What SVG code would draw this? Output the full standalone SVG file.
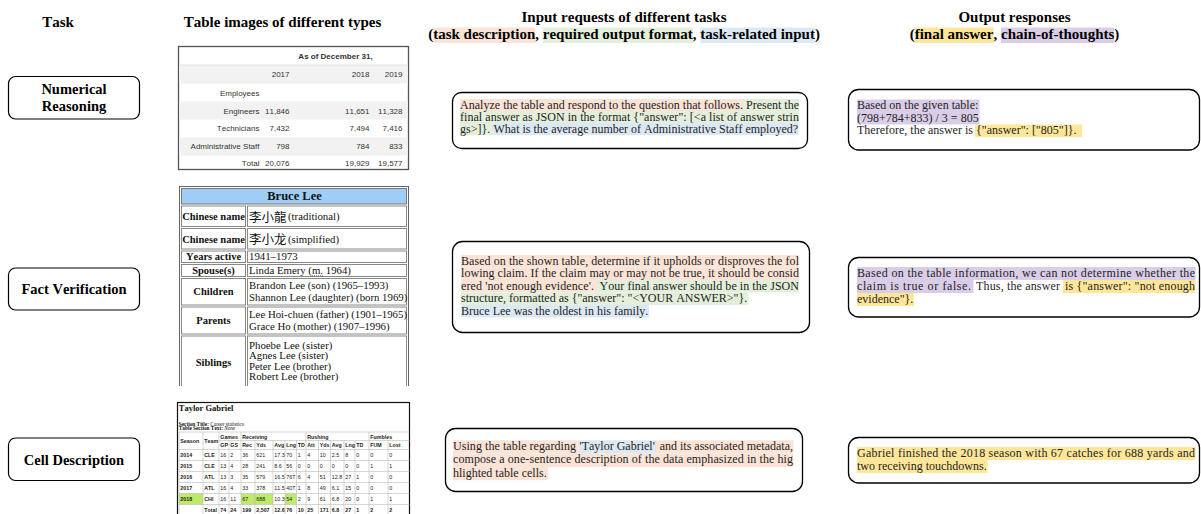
<svg xmlns="http://www.w3.org/2000/svg" width="1201" height="514" viewBox="0 0 1201 514">
<style>
text{font-kerning:none}
.h{font-family:"Liberation Serif",serif;font-weight:bold;font-size:15px;fill:#000}
.tn{font-family:"Liberation Serif",serif;font-weight:bold;font-size:14.5px;fill:#000;text-anchor:middle}
.nb{fill:#fff;stroke:#000;stroke-width:1.2}
.bx{fill:#fff;stroke:#000;stroke-width:1.3}
.b{font-family:"Liberation Serif",serif;font-size:12px;fill:#1e1e1e}
.or{fill:#fbe3d6}.gr{fill:#e3efda}.bl{fill:#dce9f5}.ye{fill:#ffe699}.pu{fill:#dacde7}
.s8{font-family:"Liberation Sans",sans-serif;font-size:8px;fill:#333}
.r{text-anchor:end}
.wl{font-family:"Liberation Serif",serif;font-weight:bold;font-size:10.5px;fill:#111;text-anchor:middle}
.wv{font-family:"Liberation Serif",serif;font-size:10.8px;fill:#111}
.cjk{font-family:"Noto Sans CJK TC","Noto Sans CJK SC",sans-serif;font-size:12.5px;fill:#111}
.wc{fill:#fff;stroke:#888;stroke-width:1}
.t5{font-family:"Liberation Sans",sans-serif;font-size:5.3px;fill:#222}
.bd{font-weight:bold}
.grid{stroke:#bbb;stroke-width:0.6}
</style>
<defs>
<clipPath id="clip2"><rect x="170" y="180" width="245" height="206"/></clipPath>
<clipPath id="clip3"><rect x="170" y="395" width="245" height="119"/></clipPath>
</defs>
<rect width="1201" height="514" fill="#fff"/>

<g id="headers">
<text class="h" x="58" y="27" text-anchor="middle">Task</text>
<text class="h" x="282.5" y="27" text-anchor="middle">Table images of different types</text>
<text class="h" x="624" y="22" text-anchor="middle">Input requests of different tasks</text>
<rect class="or" x="433.2" y="27.5" width="102.1" height="15.5"/>
<rect class="gr" x="542.8" y="27.5" width="150" height="15.5"/>
<rect class="bl" x="700.3" y="27.5" width="114.6" height="15.5"/>
<text class="h" x="428.2" y="39">(</text>
<text class="h" x="433.2" y="39">task description</text>
<text class="h" x="535.3" y="39">,</text>
<text class="h" x="542.8" y="39">required output format</text>
<text class="h" x="692.8" y="39">,</text>
<text class="h" x="700.3" y="39">task-related input</text>
<text class="h" x="814.9" y="39">)</text>
<text class="h" x="1014.5" y="22" text-anchor="middle">Output responses</text>
<rect class="ye" x="914.7" y="27.5" width="78.8" height="15.5"/>
<rect class="pu" x="1001" y="27.5" width="113.3" height="15.5"/>
<text class="h" x="909.7" y="39">(</text>
<text class="h" x="914.7" y="39">final answer</text>
<text class="h" x="993.5" y="39">,</text>
<text class="h" x="1001" y="39">chain-of-thoughts</text>
<text class="h" x="1114.3" y="39">)</text>
</g>

<g id="task-numerical-reasoning">
<rect class="nb" x="8.5" y="76.5" width="131" height="42.5" rx="7"/>
<text class="tn" x="74" y="93.5">Numerical</text>
<text class="tn" x="74" y="110.5">Reasoning</text>
</g>
<g id="task-fact-verification">
<rect class="nb" x="8.5" y="268" width="131" height="42" rx="7"/>
<text class="tn" x="74" y="294">Fact Verification</text>
</g>
<g id="task-cell-description">
<rect class="nb" x="8.5" y="438" width="131" height="42.5" rx="7"/>
<text class="tn" x="74" y="464.5">Cell Description</text>
</g>

<g id="table-numerical">
<rect x="178.5" y="46.5" width="230" height="123" fill="#fff" stroke="#555" stroke-width="1.3"/>
<rect x="179.2" y="65" width="228.6" height="18.5" fill="#f2f2f2"/>
<rect x="179.2" y="101.5" width="228.6" height="18" fill="#f2f2f2"/>
<rect x="179.2" y="137.5" width="228.6" height="18" fill="#f2f2f2"/>
<line x1="179.2" y1="65" x2="407.8" y2="65" stroke="#ddd" stroke-width="0.8"/>
<text class="s8 bd" x="335.5" y="59" text-anchor="middle">As of December 31,</text>
<text class="s8 r" x="289.5" y="77">2017</text><text class="s8 r" x="369.5" y="77">2018</text><text class="s8 r" x="402.5" y="77">2019</text>
<text class="s8 r" x="259.5" y="95.5">Employees</text>
<text class="s8 r" x="259.5" y="113.5">Engineers</text><text class="s8 r" x="289.5" y="113.5">11,846</text><text class="s8 r" x="369.5" y="113.5">11,651</text><text class="s8 r" x="402.5" y="113.5">11,328</text>
<text class="s8 r" x="259.5" y="131">Technicians</text><text class="s8 r" x="289.5" y="131">7,432</text><text class="s8 r" x="369.5" y="131">7,494</text><text class="s8 r" x="402.5" y="131">7,416</text>
<text class="s8 r" x="259.5" y="149">Administrative Staff</text><text class="s8 r" x="289.5" y="149">798</text><text class="s8 r" x="369.5" y="149">784</text><text class="s8 r" x="402.5" y="149">833</text>
<text class="s8 r" x="259.5" y="166">Total</text><text class="s8 r" x="289.5" y="166">20,076</text><text class="s8 r" x="369.5" y="166">19,929</text><text class="s8 r" x="402.5" y="166">19,577</text>
</g>

<g id="table-bruce-lee" clip-path="url(#clip2)">
<rect x="179.5" y="186.5" width="229" height="215" fill="#fff" stroke="#666" stroke-width="1"/>
<rect x="181.5" y="188.5" width="225" height="15.5" fill="#9fcdf5" stroke="#777" stroke-width="1"/>
<rect class="wc" x="181.5" y="206" width="64" height="20.5"/><rect class="wc" x="247.5" y="206" width="159" height="20.5"/>
<rect class="wc" x="181.5" y="228.5" width="64" height="20.5"/><rect class="wc" x="247.5" y="228.5" width="159" height="20.5"/>
<rect class="wc" x="181.5" y="251" width="64" height="11.5"/><rect class="wc" x="247.5" y="251" width="159" height="11.5"/>
<rect class="wc" x="181.5" y="264.5" width="64" height="12"/><rect class="wc" x="247.5" y="264.5" width="159" height="12"/>
<rect class="wc" x="181.5" y="278.5" width="64" height="26.5"/><rect class="wc" x="247.5" y="278.5" width="159" height="26.5"/>
<rect class="wc" x="181.5" y="307" width="64" height="27"/><rect class="wc" x="247.5" y="307" width="159" height="27"/>
<rect class="wc" x="181.5" y="336" width="64" height="62"/><rect class="wc" x="247.5" y="336" width="159" height="62"/>
<text x="294.5" y="200" text-anchor="middle" font-family="Liberation Serif, serif" font-weight="bold" font-size="12.5" fill="#111">Bruce Lee</text>
<text class="wl" x="213.5" y="220">Chinese name</text>
<text class="cjk" x="249" y="221.5">李小龍</text><text class="wv" x="288" y="220">(traditional)</text>
<text class="wl" x="213.5" y="242.5">Chinese name</text>
<text class="cjk" x="249" y="244">李小龙</text><text class="wv" x="288" y="242.5">(simplified)</text>
<text class="wl" x="213.5" y="260">Years active</text>
<text class="wv" x="249" y="260">1941–1973</text>
<text class="wl" x="213.5" y="274">Spouse(s)</text>
<text class="wv" x="249" y="274">Linda Emery (m. 1964)</text>
<line x1="312" y1="275.8" x2="323" y2="275.8" stroke="#333" stroke-width="0.7" stroke-dasharray="1 1"/>
<text class="wl" x="213.5" y="295">Children</text>
<text class="wv" x="249" y="289">Brandon Lee (son) (1965–1993)</text>
<text class="wv" x="249" y="300.5">Shannon Lee (daughter) (born 1969)</text>
<text class="wl" x="213.5" y="324">Parents</text>
<text class="wv" x="249" y="318">Lee Hoi-chuen (father) (1901–1965)</text>
<text class="wv" x="249" y="329.5">Grace Ho (mother) (1907–1996)</text>
<text class="wl" x="213.5" y="366">Siblings</text>
<text class="wv" x="249" y="348.5">Phoebe Lee (sister)</text>
<text class="wv" x="249" y="359">Agnes Lee (sister)</text>
<text class="wv" x="249" y="369.5">Peter Lee (brother)</text>
<text class="wv" x="249" y="380">Robert Lee (brother)</text>
</g>

<g id="table-taylor-gabriel" clip-path="url(#clip3)">
<rect x="177.5" y="402.5" width="232" height="120" fill="#fff" stroke="#111" stroke-width="1.2"/>
<text x="178.8" y="411" font-family="Liberation Serif, serif" font-weight="bold" font-size="8.5" fill="#111">Taylor Gabriel</text>
<text x="178.8" y="425.5" font-family="Liberation Serif, serif" font-size="5.3" fill="#111"><tspan font-weight="bold">Section Title:</tspan> Career statistics</text>
<text x="178.8" y="430.3" font-family="Liberation Serif, serif" font-size="5.3" fill="#111"><tspan font-weight="bold">Table Section Text:</tspan> <tspan font-style="italic">None</tspan></text>
<rect x="179" y="493.5" width="24" height="11" fill="#bdea6a"/>
<rect x="241" y="493.5" width="14" height="11" fill="#bdea6a"/>
<rect x="255" y="493.5" width="18" height="11" fill="#bdea6a"/>
<rect x="285" y="493.5" width="11.5" height="11" fill="#bdea6a"/>
<g class="grid">
<line x1="179" y1="432" x2="409.5" y2="432"/>
<line x1="219" y1="440.5" x2="409.5" y2="440.5"/>
<line x1="179" y1="449.5" x2="409.5" y2="449.5"/>
<line x1="179" y1="460.5" x2="409.5" y2="460.5"/>
<line x1="179" y1="471.5" x2="409.5" y2="471.5"/>
<line x1="179" y1="482.5" x2="409.5" y2="482.5"/>
<line x1="179" y1="493.5" x2="409.5" y2="493.5"/>
<line x1="179" y1="504.5" x2="409.5" y2="504.5"/>
<line x1="179" y1="432" x2="179" y2="514"/>
<line x1="203" y1="432" x2="203" y2="514"/>
<line x1="219" y1="432" x2="219" y2="514"/>
<line x1="229" y1="440.5" x2="229" y2="514"/>
<line x1="241" y1="432" x2="241" y2="514"/>
<line x1="255" y1="440.5" x2="255" y2="514"/>
<line x1="273" y1="440.5" x2="273" y2="514"/>
<line x1="285" y1="440.5" x2="285" y2="514"/>
<line x1="296.5" y1="440.5" x2="296.5" y2="514"/>
<line x1="306" y1="432" x2="306" y2="514"/>
<line x1="318.5" y1="440.5" x2="318.5" y2="514"/>
<line x1="330.5" y1="440.5" x2="330.5" y2="514"/>
<line x1="344" y1="440.5" x2="344" y2="514"/>
<line x1="355" y1="440.5" x2="355" y2="514"/>
<line x1="369" y1="432" x2="369" y2="514"/>
<line x1="388" y1="440.5" x2="388" y2="514"/>
</g>
<text class="t5 bd" y="438.5"><tspan x="220.3">Games</tspan><tspan x="242.3">Receiving</tspan><tspan x="307.3">Rushing</tspan><tspan x="370.3">Fumbles</tspan></text>
<text class="t5 bd" y="443"><tspan x="180.3">Season</tspan><tspan x="204.3">Team</tspan></text>
<text class="t5 bd" y="447"><tspan x="220.3">GP</tspan><tspan x="230.3">GS</tspan><tspan x="242.3">Rec</tspan><tspan x="256.3">Yds</tspan><tspan x="274.3">Avg</tspan><tspan x="286.3">Lng</tspan><tspan x="297.8">TD</tspan><tspan x="307.3">Att</tspan><tspan x="319.8">Yds</tspan><tspan x="331.8">Avg</tspan><tspan x="345.3">Lng</tspan><tspan x="356.3">TD</tspan><tspan x="370.3">FUM</tspan><tspan x="389.3">Lost</tspan></text>
<text class="t5" y="457"><tspan x="180.3" class="bd">2014</tspan><tspan x="204.3" class="bd">CLE</tspan><tspan x="220.3">16</tspan><tspan x="230.3">2</tspan><tspan x="242.3">36</tspan><tspan x="256.3">621</tspan><tspan x="274.3">17.3</tspan><tspan x="286.3">70</tspan><tspan x="297.8">1</tspan><tspan x="307.3">4</tspan><tspan x="319.8">10</tspan><tspan x="331.8">2.5</tspan><tspan x="345.3">8</tspan><tspan x="356.3">0</tspan><tspan x="370.3">0</tspan><tspan x="389.3">0</tspan></text>
<text class="t5" y="468"><tspan x="180.3" class="bd">2015</tspan><tspan x="204.3" class="bd">CLE</tspan><tspan x="220.3">13</tspan><tspan x="230.3">4</tspan><tspan x="242.3">28</tspan><tspan x="256.3">241</tspan><tspan x="274.3">8.6</tspan><tspan x="286.3">56</tspan><tspan x="297.8">0</tspan><tspan x="307.3">0</tspan><tspan x="319.8">0</tspan><tspan x="331.8">0</tspan><tspan x="345.3">0</tspan><tspan x="356.3">0</tspan><tspan x="370.3">1</tspan><tspan x="389.3">1</tspan></text>
<text class="t5" y="479"><tspan x="180.3" class="bd">2016</tspan><tspan x="204.3" class="bd">ATL</tspan><tspan x="220.3">13</tspan><tspan x="230.3">3</tspan><tspan x="242.3">35</tspan><tspan x="256.3">579</tspan><tspan x="274.3">16.5</tspan><tspan x="286.3">76T</tspan><tspan x="297.8">6</tspan><tspan x="307.3">4</tspan><tspan x="319.8">51</tspan><tspan x="331.8">12.8</tspan><tspan x="345.3">27</tspan><tspan x="356.3">1</tspan><tspan x="370.3">0</tspan><tspan x="389.3">0</tspan></text>
<text class="t5" y="490"><tspan x="180.3" class="bd">2017</tspan><tspan x="204.3" class="bd">ATL</tspan><tspan x="220.3">16</tspan><tspan x="230.3">4</tspan><tspan x="242.3">33</tspan><tspan x="256.3">378</tspan><tspan x="274.3">11.5</tspan><tspan x="286.3">40T</tspan><tspan x="297.8">1</tspan><tspan x="307.3">8</tspan><tspan x="319.8">49</tspan><tspan x="331.8">6.1</tspan><tspan x="345.3">15</tspan><tspan x="356.3">0</tspan><tspan x="370.3">0</tspan><tspan x="389.3">0</tspan></text>
<text class="t5" y="501"><tspan x="180.3" class="bd">2018</tspan><tspan x="204.3" class="bd">CHI</tspan><tspan x="220.3">16</tspan><tspan x="230.3">11</tspan><tspan x="242.3">67</tspan><tspan x="256.3">688</tspan><tspan x="274.3">10.3</tspan><tspan x="286.3">54</tspan><tspan x="297.8">2</tspan><tspan x="307.3">9</tspan><tspan x="319.8">61</tspan><tspan x="331.8">6.8</tspan><tspan x="345.3">20</tspan><tspan x="356.3">0</tspan><tspan x="370.3">1</tspan><tspan x="389.3">1</tspan></text>
<text class="t5 bd" y="512"><tspan x="204.3">Total</tspan><tspan x="220.3">74</tspan><tspan x="230.3">24</tspan><tspan x="242.3">199</tspan><tspan x="256.3">2,507</tspan><tspan x="274.3">12.6</tspan><tspan x="286.3">76</tspan><tspan x="297.8">10</tspan><tspan x="307.3">25</tspan><tspan x="319.8">171</tspan><tspan x="331.8">6.8</tspan><tspan x="345.3">27</tspan><tspan x="356.3">1</tspan><tspan x="370.3">2</tspan><tspan x="389.3">2</tspan></text>
</g>

<g id="input-numerical">
<rect class="bx" x="452.5" y="92.5" width="355" height="56" rx="9"/>
<rect class="or" x="460" y="99" width="283" height="12"/>
<rect class="gr" x="743" y="99" width="56" height="12"/>
<rect class="gr" x="460" y="111" width="339" height="12"/>
<rect class="gr" x="460" y="123" width="32" height="12"/>
<rect class="bl" x="492" y="123" width="306.5" height="12"/>
<text class="b" x="460" y="108.5" textLength="283" lengthAdjust="spacing">Analyze the table and respond to the question that follows.</text>
<text class="b" x="799" y="108.5" text-anchor="end">Present the</text>
<text class="b" x="460" y="120.5" textLength="339" lengthAdjust="spacing">final answer as JSON in the format {"answer": [&lt;a list of answer strin</text>
<text class="b" x="460" y="132.5">gs&gt;]}.</text>
<text class="b" x="493.5" y="132.5">What is the average number of Administrative Staff employed?</text>
</g>

<g id="input-fact-verification">
<rect class="bx" x="452.5" y="241.5" width="357" height="91" rx="10"/>
<rect class="or" x="461" y="255" width="338" height="12.5"/>
<rect class="or" x="461" y="267.5" width="338" height="12.5"/>
<rect class="or" x="461" y="280" width="136" height="12.5"/>
<rect class="gr" x="597" y="280" width="202" height="12.5"/>
<rect class="gr" x="461" y="292.5" width="287.5" height="12.5"/>
<rect class="bl" x="461" y="305" width="188" height="12.5"/>
<text class="b" x="461" y="264.5" textLength="338" lengthAdjust="spacing">Based on the shown table, determine if it upholds or disproves the fol</text>
<text class="b" x="461" y="277" textLength="338" lengthAdjust="spacing">lowing claim. If the claim may or may not be true, it should be consid</text>
<text class="b" x="461" y="289.5" textLength="133" lengthAdjust="spacing">ered 'not enough evidence'.</text>
<text class="b" x="599.5" y="289.5" textLength="199.5" lengthAdjust="spacing">Your final answer should be in the JSON</text>
<text class="b" x="461" y="302">structure, formatted as {"answer": "&lt;YOUR ANSWER&gt;"}.</text>
<text class="b" x="461" y="314.5">Bruce Lee was the oldest in his family.</text>
</g>

<g id="input-cell-description">
<rect class="bx" x="445.5" y="428.5" width="357" height="63" rx="10"/>
<rect class="or" x="453" y="440.3" width="125.5" height="13.3"/>
<rect class="bl" x="578.5" y="440.3" width="77.5" height="13.3"/>
<rect class="or" x="656" y="440.3" width="137.5" height="13.3"/>
<rect class="or" x="453" y="453.6" width="340.5" height="13.3"/>
<rect class="or" x="453" y="466.9" width="95" height="13.3"/>
<text class="b" x="453" y="450" textLength="123" lengthAdjust="spacing">Using the table regarding</text>
<text class="b" x="579.5" y="450">'Taylor Gabriel'</text>
<text class="b" x="793" y="450" text-anchor="end">and its associated metadata,</text>
<text class="b" x="453" y="463.3" textLength="340" lengthAdjust="spacing">compose a one-sentence description of the data emphasized in the hig</text>
<text class="b" x="453" y="476.6">hlighted table cells.</text>
</g>

<g id="output-numerical">
<rect class="bx" x="848.5" y="89.5" width="351" height="60.5" rx="10"/>
<rect class="pu" x="857" y="99.5" width="122.5" height="12.5"/>
<rect class="pu" x="857" y="112" width="122.5" height="12.5"/>
<rect class="ye" x="975" y="124.5" width="107" height="12.5"/>
<text class="b" x="857" y="109">Based on the given table:</text>
<text class="b" x="857" y="121.5">(798+784+833) / 3 = 805</text>
<text class="b" x="857" y="134">Therefore, the answer is</text>
<text class="b" x="976" y="134">{"answer": ["805"]}.</text>
</g>

<g id="output-fact-verification">
<rect class="bx" x="848.5" y="257.5" width="351" height="59.5" rx="10"/>
<rect class="pu" x="857" y="267" width="338.5" height="13"/>
<rect class="pu" x="857" y="280" width="116.5" height="13"/>
<rect class="ye" x="1063" y="280" width="132.5" height="13"/>
<rect class="ye" x="857" y="293" width="57" height="13"/>
<text class="b" x="857" y="276.5" textLength="338" lengthAdjust="spacing">Based on the table information, we can not determine whether the</text>
<text class="b" x="857" y="289.5" textLength="114" lengthAdjust="spacing">claim is true or false.</text>
<text class="b" x="976" y="289.5" textLength="84" lengthAdjust="spacing">Thus, the answer</text>
<text class="b" x="1065" y="289.5" textLength="130" lengthAdjust="spacing">is {"answer": "not enough</text>
<text class="b" x="857" y="302.5">evidence"}.</text>
</g>

<g id="output-cell-description">
<rect class="bx" x="848.5" y="437.5" width="351" height="45.5" rx="10"/>
<rect class="ye" x="857" y="447" width="338.5" height="13"/>
<rect class="ye" x="857" y="460" width="130.5" height="13"/>
<text class="b" x="857" y="456.5" textLength="338" lengthAdjust="spacing">Gabriel finished the 2018 season with 67 catches for 688 yards and</text>
<text class="b" x="857" y="469.5">two receiving touchdowns.</text>
</g>

<g id="connectors"/>
</svg>
